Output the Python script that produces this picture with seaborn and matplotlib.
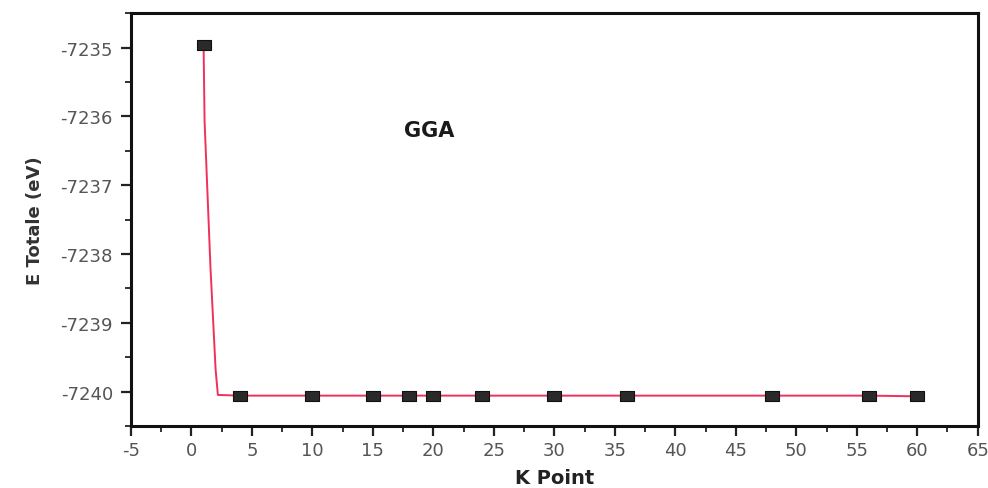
import matplotlib
matplotlib.use("Agg")
import matplotlib.pyplot as plt
from matplotlib.ticker import MultipleLocator
import seaborn as sns
import pandas as pd

# Total energy convergence with respect to the number of k-points (GGA)
k_points = [1, 4, 10, 15, 18, 20, 24, 30, 36, 48, 56, 60]
e_total = [-7234.96, -7240.06, -7240.06, -7240.06, -7240.06, -7240.06,
           -7240.06, -7240.06, -7240.06, -7240.06, -7240.06, -7240.07]

# smoothed connecting curve
curve_k = [1, 1.08, 1.57, 1.99, 2.18, 4, 10, 15, 18, 20, 24, 30, 36, 48, 56, 60]
curve_e = [-7234.96, -7236.06, -7238.2, -7239.67, -7240.05, -7240.06, -7240.06,
           -7240.06, -7240.06, -7240.06, -7240.06, -7240.06, -7240.06, -7240.06,
           -7240.06, -7240.07]

x_ticks = list(range(-5, 70, 5))
y_ticks = [-7240, -7239, -7238, -7237, -7236, -7235]

sns.set_theme(style="white")
plt.rcParams["font.family"] = ["DejaVu Sans"]

pts = pd.DataFrame({"k": k_points, "E": e_total})
crv = pd.DataFrame({"k": curve_k, "E": curve_e})

fig = plt.figure(figsize=(9.88, 4.89), dpi=100)
ax = fig.add_axes([0.1326, 0.127, 0.857, 0.844])

sns.lineplot(data=crv, x="k", y="E", ax=ax, color="#f0305a", linewidth=1.4,
             sort=False, estimator=None, zorder=2)
rect = [(-1.45, -1), (1.45, -1), (1.45, 1), (-1.45, 1), (-1.45, -1)]
sns.scatterplot(data=pts, x="k", y="E", ax=ax, marker=rect, s=100,
                color="#2a2a2a", edgecolor="#111111", linewidth=0.8, zorder=3)

ax.set_xlim(-5, 65)
ax.set_ylim(-7240.5, -7234.5)
ax.set_xticks(x_ticks)
ax.set_xticklabels([str(v) for v in x_ticks])
ax.set_yticks(y_ticks)
ax.set_yticklabels([str(v) for v in y_ticks])
ax.xaxis.set_minor_locator(MultipleLocator(2.5))
ax.yaxis.set_minor_locator(MultipleLocator(0.5))

for side in ["left", "bottom", "top", "right"]:
    ax.spines[side].set_color("#111111")
    ax.spines[side].set_linewidth(2.2)

ax.tick_params(axis="both", which="major", direction="out", length=7, width=1.6,
               color="#222222", labelsize=13, labelcolor="#555555", pad=4)
ax.tick_params(axis="y", which="major", pad=6)
ax.tick_params(axis="both", which="minor", direction="out", length=4, width=1.3,
               color="#222222")
ax.tick_params(bottom=True, left=True, which="both")

ax.set_xlabel("K Point", fontsize=14, fontweight="bold", color="#222222", labelpad=6)
ax.set_ylabel("E Totale (eV)", fontsize=13, fontweight="bold", color="#333333", labelpad=12)

ax.text(17.6, -7236.2, "GGA", fontsize=15, fontweight="bold", color="#1a1a1a",
        ha="left", va="center")

fig.savefig("out.png", dpi=100)
